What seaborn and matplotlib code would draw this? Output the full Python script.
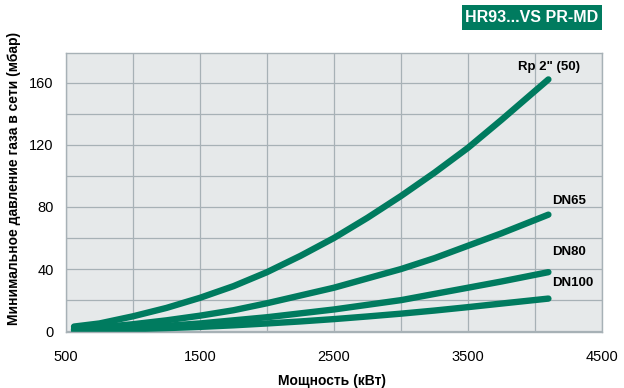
import numpy as np
import pandas as pd
import seaborn as sns
import matplotlib.pyplot as plt
from matplotlib.patches import Rectangle

# power (kW) and minimum gas pressure (mbar)
power = [560, 750, 1000, 1250, 1500, 1750, 2000, 2250, 2500, 2750, 3000, 3250, 3500, 3750, 4100]
rp2 = [3.0, 5.0, 9.6, 15, 21.5, 29, 38, 48.5, 60, 73, 87, 102, 118, 136, 162]
dn65 = [1.5, 2.5, 4.5, 7, 10, 13.5, 18, 23, 28, 34, 40, 47, 55, 63, 75]
dn80 = [1.0, 1.4, 2.3, 3.5, 5, 7, 9, 11.5, 14, 17, 20, 24, 28, 32, 38]
dn100 = [0.6, 0.9, 1.3, 2, 2.8, 3.8, 5, 6.3, 7.8, 9.5, 11.3, 13.3, 15.5, 17.8, 21]

series_names = ['Rp 2" (50)', 'DN65', 'DN80', 'DN100']
label_pos = [(3870, 170), (4130, 84), (4130, 51), (4130, 31)]

x_ticks = [500, 1500, 2500, 3500, 4500]
y_ticks = [0, 40, 80, 120, 160]

GREEN = '#007b5f'
GRID = '#a7b1b6'

df = pd.DataFrame({
    'power': power * 4,
    'pressure': rp2 + dn65 + dn80 + dn100,
    'series': sum([[n] * len(power) for n in series_names], []),
})

sns.set_style('white')
plt.rcParams['font.family'] = ['Liberation Sans', 'DejaVu Sans']
plt.rcParams['text.color'] = 'black'
plt.rcParams['xtick.labelcolor'] = 'black'
plt.rcParams['ytick.labelcolor'] = 'black'

fig = plt.figure(figsize=(6.24, 3.88), dpi=100)
ax = fig.add_axes([66 / 624, 1 - 332 / 388, (602 - 66) / 624, (332 - 53) / 388])
ax.set_facecolor('#e6e9ea')

sns.lineplot(data=df, x='power', y='pressure', hue='series',
             palette=[GREEN] * 4, linewidth=4.6, legend=False, ax=ax,
             solid_capstyle='round', solid_joinstyle='round', sort=False)

ax.set_xlim(500, 4500)
ax.set_ylim(-0.5, 179)
ax.set_xticks(x_ticks)
ax.set_xticks(np.arange(500, 4501, 500), minor=True)
ax.set_yticks(y_ticks)
ax.set_yticks(np.arange(0, 180, 20), minor=True)
ax.grid(which='both', color=GRID, linewidth=0.9)
ax.set_axisbelow(True)
for s in ax.spines.values():
    s.set_color(GRID)
    s.set_linewidth(1.0)
ax.tick_params(which='major', length=4, color=GRID, labelcolor='black',
               labelsize=10.5, pad=5)
ax.tick_params(which='minor', length=0)
ax.tick_params(axis='x', pad=9)

for name, (lx, ly) in zip(series_names, label_pos):
    ax.text(lx, ly, name, fontsize=9.5, fontweight='bold', color='black',
            ha='left', va='center')

ax.set_xlabel('')
ax.set_ylabel('')
fig.text(332 / 624, 1 - 381 / 388, 'Мощность (кВт)', fontsize=10,
         fontweight='bold', color='black', ha='center', va='center')
fig.text(14 / 624, 1 - 178 / 388, 'Минимальное давление газа в сети (мбар)',
         rotation=90, fontsize=10, fontweight='bold', color='black',
         ha='center', va='center')

fig.patches.append(Rectangle((462 / 624, 1 - 30 / 388), 140 / 624, 25 / 388,
                             transform=fig.transFigure, facecolor=GREEN,
                             edgecolor='none'))
fig.text(532 / 624, 1 - 17.5 / 388, 'HR93...VS PR-MD', color='white',
         fontsize=11.5, fontweight='bold', ha='center', va='center')

fig.savefig('out.png', dpi=100)
